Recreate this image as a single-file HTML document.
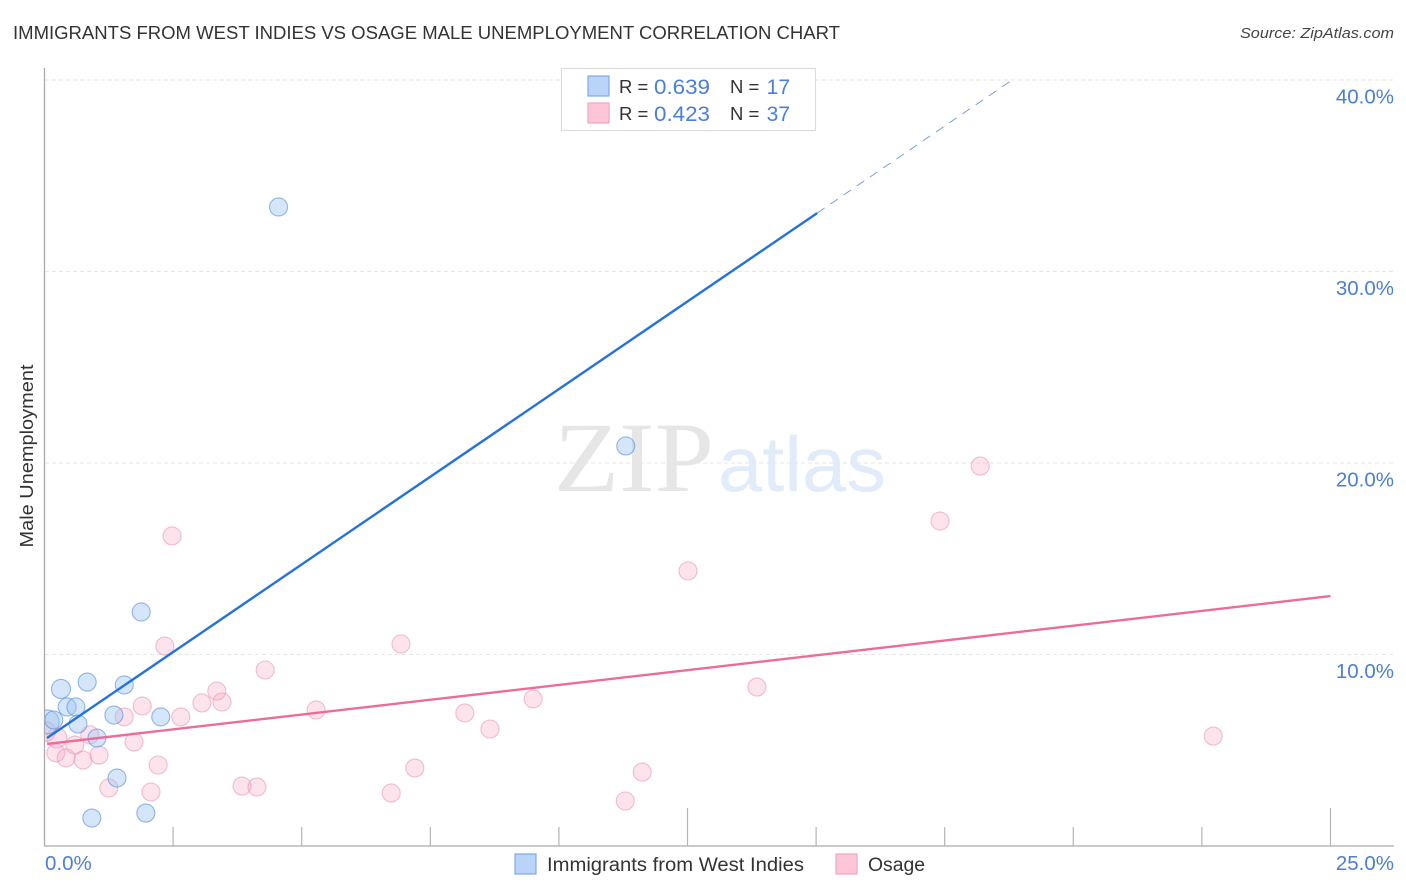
<!DOCTYPE html>
<html lang="en">
<head>
<meta charset="utf-8">
<title>Immigrants from West Indies vs Osage Male Unemployment Correlation Chart</title>
<style>
html,body{margin:0;padding:0;background:#fff;}
svg{display:block;font-family:"Liberation Sans",sans-serif;}
</style>
</head>
<body>
<svg id="chart" xmlns="http://www.w3.org/2000/svg" width="1406" height="892" viewBox="0 0 1406 892">
  <defs><clipPath id="plot-clip"><rect x="45" y="60" width="1349" height="786"/></clipPath></defs>
  <text x="13" y="39" font-size="18.6" fill="#333" textLength="827" lengthAdjust="spacingAndGlyphs">IMMIGRANTS FROM WEST INDIES VS OSAGE MALE UNEMPLOYMENT CORRELATION CHART</text>
  <text x="1394" y="38" font-size="15" font-style="italic" fill="#444" text-anchor="end" textLength="154" lengthAdjust="spacingAndGlyphs">Source: ZipAtlas.com</text>
  <g>
    <text x="554" y="491" font-family="'Liberation Serif',serif" font-size="100" fill="#e6e6e6" textLength="160" lengthAdjust="spacingAndGlyphs">ZIP</text>
    <text x="718" y="491" font-size="78" fill="#e1ebf9" textLength="168" lengthAdjust="spacingAndGlyphs">atlas</text>
  </g>
  <g id="grid"></g>
  <g id="axes"></g>
  <g id="points" clip-path="url(#plot-clip)"></g>
  <g id="trends"></g>
  <g id="labels"></g>
  <text transform="translate(33,456) rotate(-90)" font-size="18" fill="#333" text-anchor="middle" textLength="183" lengthAdjust="spacingAndGlyphs">Male Unemployment</text>
  <g>
    <rect x="561.5" y="68.5" width="254" height="62" fill="#fff" stroke="#dcdcdc" stroke-width="1.2"/>
    <rect x="588" y="76" width="21" height="20" fill="#b9d4f8" stroke="#7eaae6" stroke-width="1.2"/>
    <rect x="588" y="103" width="21" height="20" fill="#fcc6d8" stroke="#f3a5bf" stroke-width="1.2"/>
    <text x="619" y="93" font-size="18.5" fill="#333">R =</text>
    <text x="654" y="94" font-size="21" fill="#4a7fd8" textLength="56" lengthAdjust="spacingAndGlyphs">0.639</text>
    <text x="730" y="93" font-size="18.5" fill="#333">N =</text>
    <text x="790" y="94" font-size="21" fill="#4a7fd8" text-anchor="end">17</text>
    <text x="619" y="120" font-size="18.5" fill="#333">R =</text>
    <text x="654" y="121" font-size="21" fill="#4a7fd8" textLength="56" lengthAdjust="spacingAndGlyphs">0.423</text>
    <text x="730" y="120" font-size="18.5" fill="#333">N =</text>
    <text x="790" y="121" font-size="21" fill="#4a7fd8" text-anchor="end">37</text>
  </g>
  <g>
    <rect x="515" y="854" width="21" height="20" fill="#b9d4f8" stroke="#7eaae6" stroke-width="1.2"/>
    <text x="547" y="871" font-size="19" fill="#333" textLength="257" lengthAdjust="spacingAndGlyphs">Immigrants from West Indies</text>
    <rect x="836" y="854" width="21" height="20" fill="#fcc6d8" stroke="#f3a5bf" stroke-width="1.2"/>
    <text x="868" y="871" font-size="19" fill="#333" textLength="57" lengthAdjust="spacingAndGlyphs">Osage</text>
  </g>
</svg>
<script>
const blueX = [4.55, 11.30, 1.88, 0.83, 0.32, 1.55, 0.44, 0.61, 0.65, 1.35, 2.26, 1.02, 0.05, 0.18, 1.41, 0.92, 1.97];
const blueY = [33.37, 20.89, 12.22, 8.56, 8.20, 8.41, 7.26, 7.26, 6.37, 6.84, 6.74, 5.64, 6.48, 6.58, 3.55, 1.46, 1.72];
const blueSize = [9, 9, 9, 9, 9.5, 9, 9, 9, 9, 9, 9, 9, 12, 9, 9, 9, 9];
const pinkX = [18.19, 17.41, 12.51, 2.48, 2.34, 6.93, 4.29, 3.35, 3.06, 3.45, 1.90, 5.28, 2.65, 1.55, 0.88, 1.74, 0.59, 0.24, 0.02, 0.22, 0.42, 0.75, 1.06, 2.21, 1.25, 2.07, 3.84, 4.13, 6.74, 7.20, 8.17, 8.66, 9.50, 11.62, 11.29, 13.85, 22.72];
const pinkY = [19.84, 16.97, 14.36, 16.19, 10.44, 10.55, 9.19, 8.09, 7.47, 7.52, 7.31, 7.10, 6.74, 6.74, 5.80, 5.43, 5.27, 5.64, 5.98, 4.86, 4.60, 4.49, 4.75, 4.23, 3.03, 2.82, 3.13, 3.08, 2.77, 4.07, 6.95, 6.11, 7.68, 3.86, 2.35, 8.30, 5.74];
const pinkSize = [9, 9, 9, 9, 9, 9, 9, 9, 9, 9, 9, 9, 9, 9, 9, 9, 9, 10, 10, 9, 9, 9, 9, 9, 9, 9, 9, 9, 9, 9, 9, 9, 9, 9, 9, 9, 9];
const blueTrendX = [0.05, 15.02];
const blueTrendY = [5.64, 33.05];
const blueProjectionX = [15.02, 18.81];
const blueProjectionY = [33.05, 40];
const pinkTrendX = [0.05, 25];
const pinkTrendY = [5.33, 13.05];
const yTicks = [10, 20, 30, 40];
const yTickLabels = ["10.0%", "20.0%", "30.0%", "40.0%"];
const xTicks = [2.5, 5, 7.5, 10, 12.5, 15, 17.5, 20, 22.5, 25];
const xMajorTicks = [12.5, 25];
const xEndLabels = ["0.0%", "25.0%"];

const NS = "http://www.w3.org/2000/svg";
const xScale = v => 44.5 + v * 51.44;
const yScale = v => 846 - v * 19.15;
function make(tag, parent, attrs, text) {
  const el = document.createElementNS(NS, tag);
  for (const k in attrs) el.setAttribute(k, attrs[k]);
  if (text !== undefined) el.textContent = text;
  parent.appendChild(el);
  return el;
}
const grid = document.getElementById("grid");
const axes = document.getElementById("axes");
const points = document.getElementById("points");
const trends = document.getElementById("trends");
const labels = document.getElementById("labels");

yTicks.forEach((t, i) => {
  const line = make("line", grid, {x1: 45, x2: 1394, y1: yScale(t), y2: yScale(t), stroke: "#e6e6e6", "stroke-width": 1, "stroke-dasharray": "4 3"});
  
  
  const label = make("text", labels, {x: 1394, y: yScale(t) + 23.5, "font-size": 20.5, fill: "#4a7fd8", "text-anchor": "end"}, yTickLabels[i]);
  
  
});

const yAxis = make("line", axes, {x1: 44.5, x2: 44.5, y1: 68, y2: 846, stroke: "#aaaaaa", "stroke-width": 1.3});


const xAxis = make("line", axes, {x1: 44, x2: 1394, y1: 846, y2: 846, stroke: "#aaaaaa", "stroke-width": 1.3});


xTicks.forEach(t => {
  const top = xMajorTicks.includes(t) ? 808 : 827;
  const tick = make("line", axes, {x1: xScale(t), x2: xScale(t), y1: top, y2: 846, stroke: "#b4b4b4", "stroke-width": 1.2});
  
  
});
const xLabelStart = make("text", labels, {x: 45, y: 870, "font-size": 20.5, fill: "#4a7fd8"}, xEndLabels[0]);


const xLabelEnd = make("text", labels, {x: 1394, y: 870, "font-size": 20.5, fill: "#4a7fd8", "text-anchor": "end"}, xEndLabels[1]);



pinkX.forEach((x, i) => {
  const c = make("circle", points, {cx: xScale(x), cy: yScale(pinkY[i]), r: pinkSize[i], fill: "#f8a5c0", "fill-opacity": 0.3, stroke: "#e98aab", "stroke-opacity": 0.55, "stroke-width": 1.1});
  
  
});
blueX.forEach((x, i) => {
  const c = make("circle", points, {cx: xScale(x), cy: yScale(blueY[i]), r: blueSize[i], fill: "#9cc3f2", "fill-opacity": 0.42, stroke: "#5a92dc", "stroke-opacity": 0.65, "stroke-width": 1.1});
  
  
});

const blueLine = make("line", trends, {x1: xScale(blueTrendX[0]), y1: yScale(blueTrendY[0]), x2: xScale(blueTrendX[1]), y2: yScale(blueTrendY[1]), stroke: "#2673d8", "stroke-width": 2.4});


const blueDash = make("line", trends, {x1: xScale(blueProjectionX[0]), y1: yScale(blueProjectionY[0]), x2: xScale(blueProjectionX[1]), y2: yScale(blueProjectionY[1]), stroke: "#6f97d8", "stroke-width": 0.9, "stroke-dasharray": "9 7"});


const pinkLine = make("line", trends, {x1: xScale(pinkTrendX[0]), y1: yScale(pinkTrendY[0]), x2: xScale(pinkTrendX[1]), y2: yScale(pinkTrendY[1]), stroke: "#ec6b9b", "stroke-width": 2.4});


</script>
</body>
</html>
